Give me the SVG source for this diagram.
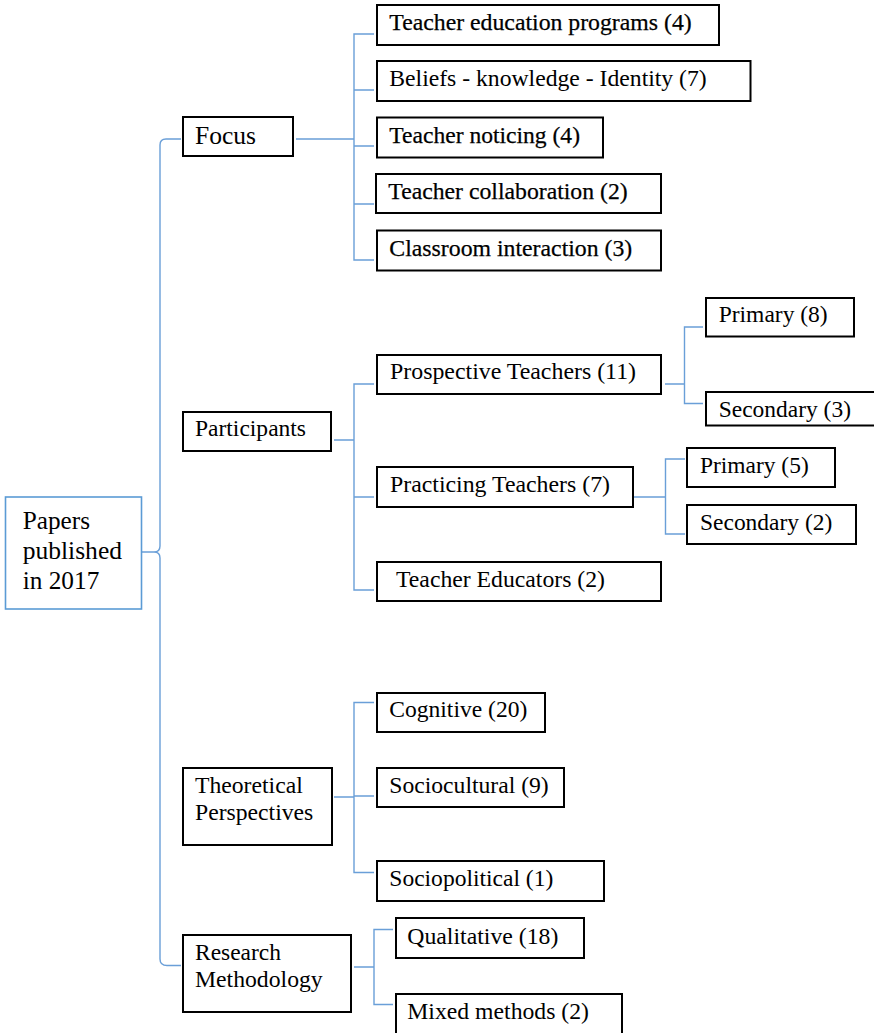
<svg xmlns="http://www.w3.org/2000/svg" width="874" height="1033" viewBox="0 0 874 1033">
<style>
.box{fill:#fff;stroke:#000;stroke-width:2}
.root{fill:#fff;stroke:#5b9bd5;stroke-width:1.6}
text{font-family:'Liberation Serif','Times New Roman',serif;font-size:24px;fill:#000}
.b{stroke:#000;stroke-width:0.25}
.big{font-size:25.5px}
.c{fill:none;stroke:#6a9fd8;stroke-width:1.4}
</style>
<rect width="874" height="1033" fill="#fff"/>
<g id="connectors">
<path class="c" d="M181,139 L166,139 Q160,139 160,145 L160,546 Q160,552 154,552 L142,552 M154,552 Q160,552 160,558 L160,959 Q160,965.5 167,965.5 L181,965.5"/>
<path class="c" d="M296,139 L354,139 M374,34 L354,34 L354,260 L374,260 M354,90 L374,90 M354,146 L374,146 M354,204 L374,204"/>
<path class="c" d="M334,440 L354,440 M374,384 L354,384 L354,590 L374,590 M354,497 L374,497"/>
<path class="c" d="M665,384 L684.5,384 M703,327 L684.5,327 L684.5,403.5 L703,403.5"/>
<path class="c" d="M626,497 L665.5,497 M685,459 L665.5,459 L665.5,534 L685,534"/>
<path class="c" d="M334,797 L354,797 M374,702.5 L354,702.5 L354,872.5 L374,872.5 M354,796 L374,796"/>
<path class="c" d="M354,967 L374,967 M393,929.5 L374,929.5 L374,1004.5 L393,1004.5"/>
</g>
<g id="root">
<rect class="root" x="5.5" y="497" width="136" height="112"/>
<text class="big" x="22.7" y="528.5" textLength="67.3" lengthAdjust="spacingAndGlyphs">Papers</text>
<text class="big" x="22.7" y="558.5" textLength="99.3" lengthAdjust="spacingAndGlyphs">published</text>
<text class="big" x="22.7" y="588.5" textLength="76.6" lengthAdjust="spacingAndGlyphs">in 2017</text>
</g>
<g id="focus">
<rect class="box" x="183" y="117" width="110" height="39"/>
<text class="big" x="195" y="144" textLength="61" lengthAdjust="spacingAndGlyphs">Focus</text>
</g>
<g id="teacher-education">
<rect class="box" x="377" y="5" width="342" height="40"/>
<text class="b" x="389.3" y="30" textLength="302.4" lengthAdjust="spacingAndGlyphs">Teacher education programs (4)</text>
</g>
<g id="beliefs">
<rect class="box" x="377" y="61" width="373.5" height="40"/>
<text x="389.3" y="86" textLength="317.4" lengthAdjust="spacingAndGlyphs">Beliefs - knowledge - Identity (7)</text>
</g>
<g id="noticing">
<rect class="box" x="377" y="117.5" width="226" height="40"/>
<text class="b" x="389.3" y="143" textLength="190.7" lengthAdjust="spacingAndGlyphs">Teacher noticing (4)</text>
</g>
<g id="collaboration">
<rect class="box" x="376" y="174" width="285" height="39"/>
<text class="b" x="388.3" y="199" textLength="239.4" lengthAdjust="spacingAndGlyphs">Teacher collaboration (2)</text>
</g>
<g id="classroom">
<rect class="box" x="377" y="230.5" width="284" height="40"/>
<text class="b" x="389.3" y="256" textLength="243" lengthAdjust="spacingAndGlyphs">Classroom interaction (3)</text>
</g>
<g id="participants">
<rect class="box" x="183" y="412" width="148" height="39"/>
<text x="195" y="436" textLength="111" lengthAdjust="spacingAndGlyphs">Participants</text>
</g>
<g id="prospective">
<rect class="box" x="377" y="355" width="284" height="39"/>
<text x="390" y="379" textLength="246" lengthAdjust="spacingAndGlyphs">Prospective Teachers (11)</text>
</g>
<g id="prospective-primary">
<rect class="box" x="706" y="298" width="148" height="38.5"/>
<text x="718.7" y="322" textLength="109" lengthAdjust="spacingAndGlyphs">Primary (8)</text>
</g>
<g id="prospective-secondary">
<rect class="box" x="706" y="392" width="180" height="33.5"/>
<text x="718.7" y="416.7" textLength="132.3" lengthAdjust="spacingAndGlyphs">Secondary (3)</text>
</g>
<g id="practicing">
<rect class="box" x="377" y="467" width="256" height="40"/>
<text x="390" y="492" textLength="220" lengthAdjust="spacingAndGlyphs">Practicing Teachers (7)</text>
</g>
<g id="practicing-primary">
<rect class="box" x="687" y="448" width="148" height="39"/>
<text x="700" y="473" textLength="108.7" lengthAdjust="spacingAndGlyphs">Primary (5)</text>
</g>
<g id="practicing-secondary">
<rect class="box" x="687" y="505" width="169" height="39"/>
<text x="700" y="530" textLength="132.3" lengthAdjust="spacingAndGlyphs">Secondary (2)</text>
</g>
<g id="teacher-educators">
<rect class="box" x="377" y="562" width="284" height="39"/>
<text x="396" y="587" textLength="209" lengthAdjust="spacingAndGlyphs">Teacher Educators (2)</text>
</g>
<g id="theoretical">
<rect class="box" x="183" y="768" width="149" height="77"/>
<text x="195" y="793" textLength="107.7" lengthAdjust="spacingAndGlyphs">Theoretical</text>
<text x="195" y="820" textLength="118.3" lengthAdjust="spacingAndGlyphs">Perspectives</text>
</g>
<g id="cognitive">
<rect class="box" x="377" y="693" width="168" height="39"/>
<text x="389.3" y="717" textLength="138" lengthAdjust="spacingAndGlyphs">Cognitive (20)</text>
</g>
<g id="sociocultural">
<rect class="box" x="377" y="768" width="187" height="39"/>
<text x="389.3" y="793" textLength="159.4" lengthAdjust="spacingAndGlyphs">Sociocultural (9)</text>
</g>
<g id="sociopolitical">
<rect class="box" x="377" y="861" width="227" height="40"/>
<text x="389.3" y="886" textLength="164" lengthAdjust="spacingAndGlyphs">Sociopolitical (1)</text>
</g>
<g id="research">
<rect class="box" x="183" y="935" width="168" height="77"/>
<text x="195" y="960" textLength="86" lengthAdjust="spacingAndGlyphs">Research</text>
<text x="195" y="987" textLength="127.7" lengthAdjust="spacingAndGlyphs">Methodology</text>
</g>
<g id="qualitative">
<rect class="box" x="396" y="918" width="188" height="40"/>
<text x="407.3" y="943.5" textLength="151" lengthAdjust="spacingAndGlyphs">Qualitative (18)</text>
</g>
<g id="mixed">
<rect class="box" x="396" y="994" width="226" height="50"/>
<text x="407.3" y="1018.5" textLength="181.7" lengthAdjust="spacingAndGlyphs">Mixed methods (2)</text>
</g>
</svg>
